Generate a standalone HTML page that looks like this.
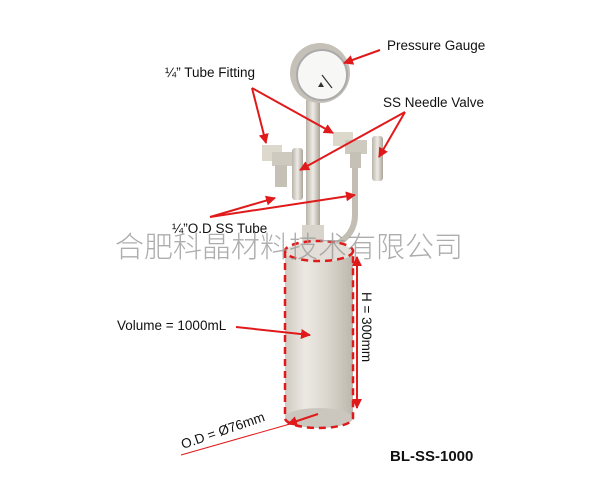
<!DOCTYPE html>
<html><head><meta charset="utf-8"><style>
html,body{margin:0;padding:0;background:#fff;}
svg{display:block;}
text{font-family:"Liberation Sans",sans-serif;}
</style></head><body>
<svg width="600" height="500" viewBox="0 0 600 500" xmlns="http://www.w3.org/2000/svg">
<defs>
<linearGradient id="cyl" x1="0" x2="1" y1="0" y2="0">
<stop offset="0" stop-color="#cfcbc2"/><stop offset="0.3" stop-color="#ece9e3"/><stop offset="0.6" stop-color="#dcd8d0"/><stop offset="1" stop-color="#bdb8ae"/>
</linearGradient>
<linearGradient id="rod" x1="0" x2="1"><stop offset="0" stop-color="#b9b4aa"/><stop offset="0.5" stop-color="#eeebe5"/><stop offset="1" stop-color="#a9a499"/></linearGradient>
<marker id="ah" viewBox="0 0 10 10" refX="9" refY="5" markerWidth="5" markerHeight="5" orient="auto-start-reverse"><path d="M0,0L10,5L0,10z" fill="#e0191b"/></marker>
</defs>
<path d="M280,185 L280,250" stroke="url(#rod)" stroke-width="6" fill="none"/>
<path d="M355,165 L355,215 Q355,235 335,245" stroke="#c3beb4" stroke-width="6" fill="none"/>
<rect x="306" y="100" width="14" height="150" fill="url(#rod)"/>
<rect x="302" y="225" width="22" height="25" fill="#d8d4cc"/>
<rect x="262" y="145" width="20" height="16" fill="#ddd8cc"/>
<rect x="272" y="152" width="24" height="14" fill="#cfcabf"/>
<rect x="275" y="165" width="12" height="22" fill="#c6c1b6"/>
<rect x="292" y="148" width="11" height="52" rx="3" fill="url(#rod)"/>
<rect x="333" y="132" width="20" height="14" fill="#ddd8cc"/>
<rect x="345" y="140" width="22" height="14" fill="#cfcabf"/>
<rect x="350" y="152" width="11" height="16" fill="#c6c1b6"/>
<rect x="372" y="136" width="11" height="45" rx="3" fill="url(#rod)"/>
<circle cx="320" cy="73" r="30" fill="#c5c1b8"/>
<circle cx="322" cy="75" r="25" fill="#f7f7f5" stroke="#aaa" stroke-width="2"/>
<line x1="322" y1="75" x2="332" y2="88" stroke="#333" stroke-width="1.2"/>
<path d="M318,87 l3,-5 l3,5z" fill="#333"/>
<rect x="285" y="250" width="68" height="168" fill="url(#cyl)"/>
<ellipse cx="319" cy="418" rx="34" ry="10" fill="#cbc7be"/>
<ellipse cx="319" cy="252" rx="34" ry="10" fill="#e3dfd8"/>
<g stroke="#e0191b" stroke-width="2.5" fill="none" stroke-dasharray="7,5">
<ellipse cx="319" cy="251" rx="34" ry="10"/>
<path d="M285,251 L285,418 A34,10 0 0 0 353,418 L353,251"/>
</g>
<text x="115" y="257" font-size="29" fill="#999" fill-opacity="0.8" style="font-family:'Noto Sans CJK SC',sans-serif;font-weight:300">合肥科晶材料技术有限公司</text>
<g stroke="#e0191b" stroke-width="2" fill="none">
<line x1="380" y1="50" x2="344" y2="63" marker-end="url(#ah)"/>
<line x1="252" y1="88" x2="266" y2="143" marker-end="url(#ah)"/>
<line x1="252" y1="88" x2="333" y2="133" marker-end="url(#ah)"/>
<line x1="405" y1="112" x2="300" y2="170" marker-end="url(#ah)"/>
<line x1="405" y1="112" x2="379" y2="157" marker-end="url(#ah)"/>
<line x1="210" y1="217" x2="275" y2="198" marker-end="url(#ah)"/>
<line x1="210" y1="217" x2="355" y2="195" marker-end="url(#ah)"/>
<line x1="236" y1="327" x2="310" y2="335" marker-end="url(#ah)"/>
<line x1="357" y1="257" x2="357" y2="408" marker-start="url(#ah)" marker-end="url(#ah)"/>
<line x1="318" y1="414" x2="288" y2="424" marker-end="url(#ah)"/>
</g>
<line x1="181" y1="455" x2="290" y2="424" stroke="#e0191b" stroke-width="1"/>
<g font-size="13.5" fill="#111">
<text x="387" y="50">Pressure Gauge</text>
<text x="165" y="77">¼” Tube Fitting</text>
<text x="383" y="107">SS Needle Valve</text>
<text x="172" y="233">¼”O.D SS Tube</text>
<text x="117" y="330">Volume = 1000mL</text>
<text transform="translate(362,292) rotate(90)">H = 300mm</text>
<text transform="translate(183,449) rotate(-19)">O.D = Ø76mm</text>
<text x="390" y="461" font-weight="bold" font-size="15">BL-SS-1000</text>
</g>
</svg>
</body></html>
